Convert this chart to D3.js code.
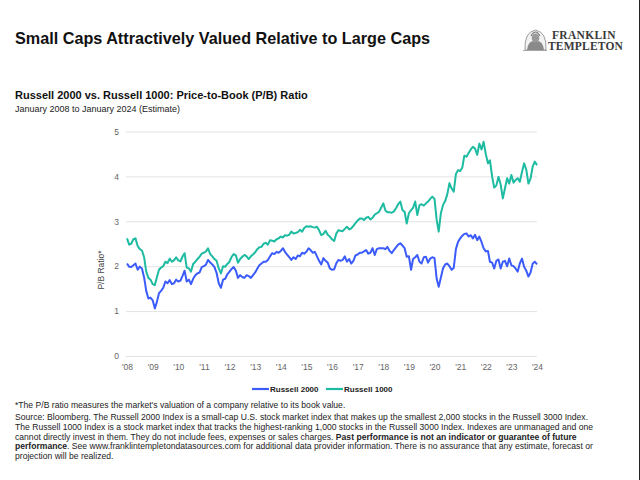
<!DOCTYPE html>
<html><head><meta charset="utf-8">
<script src="https://cdn.jsdelivr.net/npm/d3@7/dist/d3.min.js"></script>
<style>body{margin:0;background:#fff}svg{display:block}</style>
</head><body><svg id="c" width="640" height="480" font-family="'Liberation Sans',Arial,sans-serif"></svg>
<script>
// Monthly P/B ratios, Jan 2008 .. Jan 2024
const startYear = 2008;
const russell2000 = [
 2.06,1.99,1.98,2.02,2.06,1.92,1.99,1.95,1.75,1.45,1.28,1.30,
 1.24,1.06,1.20,1.40,1.45,1.52,1.66,1.62,1.69,1.60,1.62,1.70,
 1.66,1.68,1.78,1.90,1.66,1.70,1.60,1.72,1.80,1.84,1.86,1.98,
 2.00,2.04,2.14,2.08,2.04,1.98,1.85,1.62,1.52,1.70,1.72,1.82,
 1.88,1.94,1.98,1.90,1.74,1.80,1.76,1.74,1.80,1.78,1.74,1.80,
 1.86,1.95,2.02,2.06,2.10,2.10,2.14,2.22,2.29,2.27,2.32,2.30,
 2.34,2.40,2.32,2.26,2.20,2.14,2.20,2.16,2.24,2.22,2.30,2.28,
 2.32,2.40,2.36,2.30,2.32,2.22,2.12,2.04,2.18,2.12,2.08,1.95,
 1.92,1.93,2.06,2.14,2.12,2.14,2.22,2.10,2.16,2.06,2.12,2.24,
 2.26,2.30,2.30,2.33,2.36,2.28,2.30,2.40,2.25,2.38,2.40,2.40,
 2.40,2.38,2.43,2.34,2.29,2.36,2.42,2.48,2.51,2.46,2.40,2.21,
 2.22,1.92,2.16,2.20,2.25,2.10,2.06,2.20,2.21,2.08,2.17,2.20,
 2.18,1.72,1.54,1.75,1.95,2.04,2.06,2.00,1.92,1.96,2.38,2.54,
 2.62,2.68,2.72,2.73,2.66,2.69,2.62,2.70,2.58,2.66,2.54,2.40,
 2.33,2.34,2.10,2.08,1.95,2.12,2.15,1.95,2.10,2.12,2.00,2.17,
 2.02,2.00,1.95,1.88,2.06,2.17,1.99,1.90,1.77,1.86,2.06,2.10,
 2.04];
const russell1000 = [
 2.62,2.48,2.50,2.60,2.62,2.45,2.38,2.35,2.20,1.88,1.74,1.70,
 1.60,1.58,1.75,1.92,1.97,2.00,2.10,2.07,2.17,2.10,2.13,2.20,
 2.13,2.11,2.21,2.29,1.97,1.95,1.88,2.05,2.10,2.16,2.21,2.28,
 2.30,2.33,2.40,2.27,2.22,2.16,2.12,1.95,1.84,2.00,1.99,2.05,
 2.10,2.21,2.27,2.24,2.08,2.16,2.21,2.25,2.22,2.16,2.22,2.26,
 2.31,2.38,2.42,2.43,2.50,2.52,2.48,2.58,2.57,2.55,2.60,2.62,
 2.66,2.64,2.69,2.68,2.70,2.77,2.73,2.74,2.76,2.81,2.77,2.85,
 2.89,2.88,2.89,2.87,2.86,2.88,2.80,2.69,2.72,2.79,2.70,2.66,
 2.60,2.56,2.72,2.80,2.79,2.78,2.83,2.88,2.82,2.84,2.90,2.96,
 3.02,3.06,3.06,3.03,3.08,3.10,3.04,3.08,3.15,3.18,3.21,3.30,
 3.40,3.24,3.20,3.20,3.19,3.22,3.29,3.38,3.44,3.25,3.21,2.95,
 3.18,3.25,3.30,3.44,3.14,3.36,3.38,3.35,3.40,3.44,3.50,3.55,
 3.50,3.03,2.77,3.18,3.36,3.45,3.60,3.85,3.73,3.66,4.05,4.14,
 4.12,4.20,4.46,4.44,4.52,4.60,4.66,4.62,4.48,4.73,4.60,4.77,
 4.50,4.29,4.36,4.00,3.75,3.80,3.99,3.82,3.51,3.73,3.96,3.84,
 4.03,3.86,3.92,3.96,3.88,4.10,4.29,4.15,3.84,3.95,4.22,4.33,
 4.25];
const yTicks = [0,1,2,3,4,5];
const xTickYears = d3.range(2008, 2025);
const seriesNames = ["Russell 2000","Russell 1000"];
const seriesColors = ["#3b5bfb","#1dbba1"];

const svg = d3.select("#c");
const W = 640, H = 480;
svg.append("rect").attr("width",W).attr("height",H).attr("fill","#fff");
svg.append("line").attr("x1",639.5).attr("x2",639.5).attr("y1",0).attr("y2",H).attr("stroke","#222").attr("stroke-width",1);

const dates = russell2000.map((_, i) => new Date(startYear, i, 1));
const x = d3.scaleTime().domain([new Date(2008,0,1), new Date(2024,0,1)]).range([127, 537]);
const y = d3.scaleLinear().domain([0,5]).range([356, 131.5]);

// Title
svg.append("text").attr("x",15).attr("y",44).attr("font-size",16.2).attr("font-weight","bold")
  .attr("fill","#111").text("Small Caps Attractively Valued Relative to Large Caps");

// Logo
const logo = svg.append("g");
logo.append("path").attr("d","M525,50 Q524,32 535.5,30 Q547,32 546,50 Z")
  .attr("fill","#f2f2f2").attr("stroke","#888").attr("stroke-width",0.8);
logo.append("path").attr("d","M527,50 Q528,40 535.5,41 Q543,40 544,50 Z").attr("fill","#8a8a8a");
logo.append("ellipse").attr("cx",535.5).attr("cy",38).attr("rx",3.8).attr("ry",4.5).attr("fill","#9a9a9a");
logo.append("path").attr("d","M531,36 Q535.5,28 540,36").attr("fill","none").attr("stroke","#777").attr("stroke-width",1.2);
logo.append("line").attr("x1",523).attr("x2",547).attr("y1",50.5).attr("y2",50.5).attr("stroke","#999").attr("stroke-width",0.8);
const serif = "'Liberation Serif','DejaVu Serif',serif";
logo.append("text").attr("x",552).attr("y",39).attr("font-size",11.5).attr("font-family",serif)
  .attr("font-weight","bold").attr("fill","#3a3a3a").attr("letter-spacing",0.3).text("FRANKLIN");
logo.append("text").attr("x",548).attr("y",50).attr("font-size",11.5).attr("font-family",serif)
  .attr("font-weight","bold").attr("fill","#3a3a3a").attr("letter-spacing",0.2).text("TEMPLETON");

// Subtitle
svg.append("text").attr("x",15).attr("y",99).attr("font-size",11).attr("font-weight","bold")
  .attr("fill","#111").text("Russell 2000 vs. Russell 1000: Price-to-Book (P/B) Ratio");
svg.append("text").attr("x",15).attr("y",112).attr("font-size",9)
  .attr("fill","#222").text("January 2008 to January 2024 (Estimate)");

// Gridlines and y axis
const yAxis = d3.axisLeft(y).tickValues(yTicks).tickSize(-(537-126)).tickPadding(7).tickFormat(d3.format("d"));
const gy = svg.append("g").attr("transform","translate(126,0)").call(yAxis);
gy.select(".domain").remove();
gy.selectAll(".tick line").attr("stroke","#e3e3e3").attr("stroke-width",1);
gy.selectAll(".tick text").attr("fill","#666").attr("font-size",8.5).attr("font-family","'Liberation Sans',Arial,sans-serif");

// x axis
const xAxis = d3.axisBottom(x).tickValues(xTickYears.map(yy => new Date(yy,0,1)))
  .tickSize(0).tickPadding(8).tickFormat(d => "'" + String(d.getFullYear()).slice(2));
const gx = svg.append("g").attr("transform","translate(0,356)").call(xAxis);
gx.select(".domain").remove();
gx.selectAll(".tick text").attr("fill","#666").attr("font-size",8.5).attr("font-family","'Liberation Sans',Arial,sans-serif");

// y label
svg.append("text").attr("transform","translate(104,270) rotate(-90)").attr("text-anchor","middle")
  .attr("font-size",8.5).attr("fill","#444").text("P/B Ratio*");

// Lines
const line = d3.line().x((d,i) => x(dates[i])).y(d => y(d)).curve(d3.curveLinear);
[russell1000, russell2000].forEach((s, k) => {
  svg.append("path").datum(s).attr("d", line).attr("fill","none")
    .attr("stroke", k === 0 ? seriesColors[1] : seriesColors[0])
    .attr("stroke-width",2).attr("stroke-linejoin","round");
});

// Legend
const lg = svg.append("g");
const legendItems = [{name:seriesNames[0], color:seriesColors[0], x0:252},{name:seriesNames[1], color:seriesColors[1], x0:326}];
legendItems.forEach(it => {
  lg.append("line").attr("x1",it.x0).attr("x2",it.x0+17).attr("y1",389).attr("y2",389)
    .attr("stroke",it.color).attr("stroke-width",2.2);
  lg.append("text").attr("x",it.x0+18).attr("y",392).attr("font-size",8).attr("font-weight","bold")
    .attr("fill","#222").text(it.name);
});

// Footnotes
const fn = svg.append("g").attr("font-size",8.6).attr("fill","#222");
fn.append("text").attr("x",15).attr("y",408).text("*The P/B ratio measures the market's valuation of a company relative to its book value.");
const src = [
 [["Source: Bloomberg. The Russell 2000 Index is a small-cap U.S. stock market index that makes up the smallest 2,000 stocks in the Russell 3000 Index.", false]],
 [["The Russell 1000 Index is a stock market index that tracks the highest-ranking 1,000 stocks in the Russell 3000 Index. Indexes are unmanaged and one", false]],
 [["cannot directly invest in them. They do not include fees, expenses or sales charges. ", false],["Past performance is not an indicator or guarantee of future", true]],
 [["performance", true],[". See www.franklintempletondatasources.com for additional data provider information. There is no assurance that any estimate, forecast or", false]],
 [["projection will be realized.", false]]
];
src.forEach((parts, i) => {
  const t = fn.append("text").attr("x",15).attr("y",420.3 + i*9.6);
  parts.forEach(p => t.append("tspan").attr("font-weight", p[1] ? "bold" : "normal").text(p[0]));
});
</script></body></html>
